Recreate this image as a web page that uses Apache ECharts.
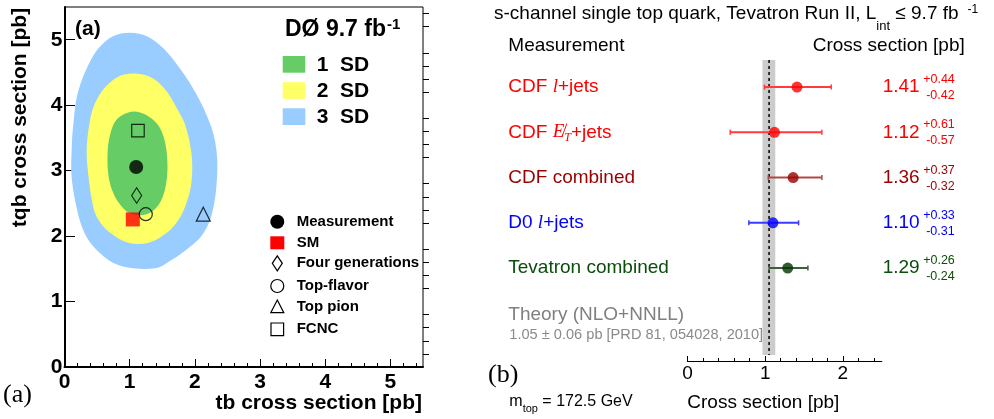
<!DOCTYPE html>
<html><head><meta charset="utf-8">
<script src="https://cdn.jsdelivr.net/npm/echarts@6/dist/echarts.min.js"></script>
<style>html,body{margin:0;padding:0;background:#fff}#c{width:994px;height:419px}</style>
</head><body><div id="c"></div>
<script>
// ---------------- Panel (a) data ----------------
const contour3SD = [[0.85,5.09],[1.15,5.09],[1.40,4.97],[1.65,4.72],[2.00,4.21],[2.24,3.70],[2.33,3.32],[2.34,2.89],[2.27,2.37],[2.13,2.04],[1.87,1.79],[1.57,1.59],[1.40,1.51],[1.05,1.51],[0.75,1.59],[0.49,1.79],[0.31,2.04],[0.20,2.37],[0.11,2.89],[0.11,3.32],[0.135,3.70],[0.21,4.21],[0.42,4.72],[0.62,4.97]];
const contour2SD = [[0.92,4.47],[1.20,4.47],[1.39,4.39],[1.57,4.21],[1.72,3.96],[1.85,3.70],[1.94,3.32],[1.96,3.01],[1.93,2.71],[1.85,2.45],[1.75,2.25],[1.57,2.05],[1.29,1.90],[0.98,1.90],[0.70,2.05],[0.52,2.25],[0.44,2.45],[0.37,2.89],[0.34,3.32],[0.38,3.70],[0.44,3.96],[0.57,4.21],[0.75,4.39]];
const contour1SD = [[0.98,3.89],[1.16,3.89],[1.33,3.80],[1.46,3.66],[1.55,3.40],[1.58,3.05],[1.55,2.75],[1.47,2.52],[1.35,2.38],[1.18,2.32],[1.02,2.34],[0.88,2.45],[0.76,2.63],[0.68,2.89],[0.66,3.25],[0.70,3.55],[0.80,3.78]];
const measurementPt = [1.10, 3.055];
const smPt = [1.048, 2.255];
const fourGenPt = [1.107, 2.62];
const topFlavorPt = [1.247, 2.335];
const topPionPt = [2.129, 2.335];
const fcncPt = [1.127, 3.61];
const ticksA = [0, 1, 2, 3, 4, 5];
const sdLabels = ['1  SD', '2  SD', '3  SD'];
const markerLabels = ['Measurement', 'SM', 'Four generations', 'Top-flavor', 'Top pion', 'FCNC'];

// ---------------- Panel (b) data ----------------
const measNames = ['CDF {it|l}+jets', 'CDF {it|E\u0338}{sub|T}+jets', 'CDF combined', 'D0 {it|l}+jets', 'Tevatron combined'];
const xsValues = [1.41, 1.12, 1.36, 1.10, 1.29];
const errUp = [0.44, 0.61, 0.37, 0.33, 0.26];
const errDown = [0.42, 0.57, 0.32, 0.31, 0.24];
const theoryValue = 1.05;
const theoryBand = [0.965, 1.13];
const ticksB = [0, 1, 2];

// ---------------- styles ----------------
const SANS = '"Liberation Sans", Arial, Helvetica, sans-serif';
const SERIF = '"Liberation Serif", "Times New Roman", serif';
const textColors = ['#ff0000', '#ff0000', '#990000', '#0000ff', '#0b4d0b'];
const markerColors = ['#ff0000', '#ff0000', '#990000', '#0000ff', '#003300'];
const barColors = ['#ff3b3b', '#ff3b3b', '#b04848', '#3b3bff', '#3e5f3e'];
const sdColors = ['#66cc66', '#ffff66', '#99ccff'];

const mctx = document.createElement('canvas').getContext('2d');
function tw(t, font) { mctx.font = font; return mctx.measureText(t).width; }
function pieceTexts(x, y, pieces) {
  const out = []; let cx = x;
  pieces.forEach(p => {
    cx += p.dx || 0;
    out.push({ type: 'text', x: cx, y: y + (p.dy || 0), silent: true, z: 100,
      style: { text: p.t, font: p.font, fill: p.fill || '#000', align: 'left', verticalAlign: 'middle' } });
    cx += tw(p.t, p.font);
  });
  return out;
}
function minorTicks(max, step) {
  const out = [];
  for (let k = 1; k * step < max - 1e-9; k++) {
    const v = +(k * step).toFixed(4);
    if (Math.abs(v - Math.round(v)) > 1e-6) out.push(v);
  }
  return out;
}

function polygonSeries(name, pts, color, z) {
  return { type: 'custom', name, xAxisIndex: 0, yAxisIndex: 0, z, silent: true, data: pts,
    encode: { x: 0, y: 1 },
    renderItem: (params, api) => {
      if (params.dataIndex !== 0) return null;
      return { type: 'polygon', shape: { points: pts.map(p => api.coord(p)), smooth: 0.35 }, style: { fill: color } };
    } };
}
const openStyle = { color: 'rgba(0,0,0,0)', borderColor: '#000', borderWidth: 1.2 };

const chart = echarts.init(document.getElementById('c'), null, { renderer: 'canvas' });

const GA = { left: 64.5, top: 7, width: 358.5, height: 360 };
const GB = { left: 687.5, top: 41.85, width: 194.2, height: 316.75 };
const axisOffB = 2.4;
const tickStyle = { color: '#000', width: 1 };
const option = {
  animation: false,
  backgroundColor: '#fff',
  grid: [
    Object.assign({ show: true, borderColor: '#000', borderWidth: 1, backgroundColor: 'transparent', containLabel: false, outerBoundsMode: 'none' }, GA),
    Object.assign({ show: false, containLabel: false, outerBoundsMode: 'none' }, GB)
  ],
  xAxis: [
    { type: 'value', gridIndex: 0, min: 0, max: 5.5, position: 'bottom',
      axisLine: { show: true, onZero: false, lineStyle: { color: '#000', width: 2 } },
      axisTick: { show: true, inside: true, length: 8, customValues: ticksA, lineStyle: tickStyle },
      axisLabel: { show: true, customValues: ticksA, margin: 4.5, color: '#000', fontFamily: SANS, fontSize: 21, fontWeight: 'bold' },
      splitLine: { show: false } },
    // minor ticks: top-positioned axis shifted down onto the bottom edge, ticks pointing up
    { type: 'value', gridIndex: 0, min: 0, max: 5.5, position: 'top', offset: -GA.height,
      axisLine: { show: false }, axisLabel: { show: false }, splitLine: { show: false },
      axisTick: { show: true, inside: false, length: 4, customValues: minorTicks(5.5, 0.2), lineStyle: tickStyle } },
    { type: 'value', gridIndex: 1, min: 0, max: 2.5, position: 'bottom', offset: axisOffB,
      axisLine: { show: true, onZero: false, lineStyle: { color: '#000', width: 1.2 } },
      axisTick: { show: true, inside: true, length: 5, customValues: ticksB, lineStyle: tickStyle },
      axisLabel: { show: true, customValues: ticksB, margin: 3, color: '#000', fontFamily: SANS, fontSize: 19 },
      splitLine: { show: false } },
    { type: 'value', gridIndex: 1, min: 0, max: 2.5, position: 'top', offset: -(GB.height + axisOffB),
      axisLine: { show: false }, axisLabel: { show: false }, splitLine: { show: false },
      axisTick: { show: true, inside: false, length: 3, customValues: minorTicks(2.5, 0.2), lineStyle: tickStyle } }
  ],
  yAxis: [
    { type: 'value', gridIndex: 0, min: 0, max: 5.5, position: 'left',
      axisLine: { show: true, onZero: false, lineStyle: { color: '#000', width: 2 } },
      axisTick: { show: true, inside: true, length: 10.5, customValues: ticksA, lineStyle: tickStyle },
      axisLabel: { show: true, customValues: ticksA, margin: 2, color: '#000', fontFamily: SANS, fontSize: 21, fontWeight: 'bold' },
      splitLine: { show: false } },
    { type: 'value', gridIndex: 0, min: 0, max: 5.5, position: 'right', offset: -GA.width,
      axisLine: { show: false }, axisLabel: { show: false }, splitLine: { show: false },
      axisTick: { show: true, inside: false, length: 6, customValues: minorTicks(5.5, 0.2), lineStyle: tickStyle } },
    { type: 'value', gridIndex: 1, min: 0, max: 7, inverse: true, show: false, splitLine: { show: false } }
  ],
  series: [
    polygonSeries('3 SD', contour3SD, sdColors[2], 1),
    polygonSeries('2 SD', contour2SD, sdColors[1], 2),
    polygonSeries('1 SD', contour1SD, sdColors[0], 3),
    { type: 'scatter', name: markerLabels[0], xAxisIndex: 0, yAxisIndex: 0, z: 5, data: [measurementPt], symbol: 'circle', symbolSize: 14, itemStyle: { color: '#000' } },
    { type: 'scatter', name: markerLabels[1], xAxisIndex: 0, yAxisIndex: 0, z: 5, data: [smPt], symbol: 'rect', symbolSize: 14, itemStyle: { color: '#ff0000' } },
    { type: 'scatter', name: markerLabels[2], xAxisIndex: 0, yAxisIndex: 0, z: 5, data: [fourGenPt], symbol: 'diamond', symbolSize: [10, 15.5], symbolKeepAspect: false, itemStyle: openStyle },
    { type: 'scatter', name: markerLabels[3], xAxisIndex: 0, yAxisIndex: 0, z: 5, data: [topFlavorPt], symbol: 'circle', symbolSize: 13, itemStyle: openStyle },
    { type: 'scatter', name: markerLabels[4], xAxisIndex: 0, yAxisIndex: 0, z: 5, data: [topPionPt], symbol: 'triangle', symbolSize: 14, itemStyle: openStyle },
    { type: 'scatter', name: markerLabels[5], xAxisIndex: 0, yAxisIndex: 0, z: 5, data: [fcncPt], symbol: 'rect', symbolSize: 12.5, itemStyle: openStyle },
    // theory band
    { type: 'custom', xAxisIndex: 2, yAxisIndex: 2, z: 1, silent: true,
      data: [[theoryBand[0], theoryBand[1], theoryValue, 3]], encode: { x: [0, 1, 2], y: 3 },
      renderItem: (params, api) => {
        const cs = params.coordSys;
        const x0 = api.coord([api.value(0), 0])[0], x1 = api.coord([api.value(1), 0])[0], xm = api.coord([api.value(2), 0])[0];
        const yt = cs.y + 18.2, yb = cs.y + cs.height - 3.6;
        return { type: 'group', children: [
          { type: 'rect', shape: { x: x0, y: yt, width: x1 - x0, height: yb - yt }, style: { fill: '#cccccc' } },
          { type: 'line', shape: { x1: xm, y1: yt, x2: xm, y2: yb }, style: { stroke: '#000', lineWidth: 1.5, lineDash: [3, 3] } }
        ] };
      } },
    // error bars + value labels
    { type: 'custom', xAxisIndex: 2, yAxisIndex: 2, z: 3, silent: true,
      data: xsValues.map((v, i) => [v, +(v - errDown[i]).toFixed(3), +(v + errUp[i]).toFixed(3), i + 1]),
      encode: { x: [0, 1, 2], y: 3 },
      renderItem: (params, api) => {
        const i = params.dataIndex;
        const row = api.value(3);
        const p = api.coord([api.value(0), row]);
        const pl = api.coord([api.value(1), row]);
        const ph = api.coord([api.value(2), row]);
        const col = barColors[i];
        const cs = params.coordSys;
        const xr = cs.x + cs.width + 1;
        const vfont = '19px ' + SANS, sfont = '12.5px ' + SANS;
        const vt = xsValues[i].toFixed(2);
        const xs = xr + tw(vt, vfont) + 3.5;
        const tc = textColors[i];
        return { type: 'group', children: [
          { type: 'line', shape: { x1: pl[0], y1: p[1], x2: ph[0], y2: p[1] }, style: { stroke: col, lineWidth: 2 } },
          { type: 'line', shape: { x1: pl[0], y1: p[1] - 2.5, x2: pl[0], y2: p[1] + 2.5 }, style: { stroke: col, lineWidth: 1.5 } },
          { type: 'line', shape: { x1: ph[0], y1: p[1] - 2.5, x2: ph[0], y2: p[1] + 2.5 }, style: { stroke: col, lineWidth: 1.5 } },
          { type: 'text', x: xr, y: p[1], style: { text: vt, font: vfont, fill: tc, align: 'left', verticalAlign: 'middle' } },
          { type: 'text', x: xs, y: p[1] - 7.5, style: { text: '+' + errUp[i].toFixed(2), font: sfont, fill: tc, align: 'left', verticalAlign: 'middle' } },
          { type: 'text', x: xs + 3, y: p[1] + 8.5, style: { text: '-' + errDown[i].toFixed(2), font: sfont, fill: tc, align: 'left', verticalAlign: 'middle' } }
        ] };
      } },
    { type: 'scatter', xAxisIndex: 2, yAxisIndex: 2, z: 6, symbol: 'circle', symbolSize: 11,
      data: xsValues.map((v, i) => ({ value: [v, i + 1], itemStyle: { color: markerColors[i] } })) }
  ]
};
chart.setOption(option);

// ---------------- annotations ----------------
const g = [];
const B21 = 'bold 21px ' + SANS;
// panel (a)
g.push(...pieceTexts(75, 29, [{ t: '(a)', font: B21 }]));
g.push(...pieceTexts(285, 30, [{ t: 'D\u00D8 9.7 fb', font: 'bold 23px ' + SANS }, { t: '-1', font: 'bold 15px ' + SANS, dy: -5, dx: 1 }]));
sdLabels.forEach((s, i) => {
  const yTop = 56 + i * 26.15;
  g.push({ type: 'rect', z: 100, silent: true, shape: { x: 282.7, y: yTop, width: 22.6, height: 16.7 }, style: { fill: sdColors[i] } });
  g.push(...pieceTexts(316.7, yTop + 8.8, [{ t: s, font: B21 }]));
});
const legY = [221.7, 242.8, 263.3, 286, 306.5, 329.3];
const lx = 277.3;
const sym = { fill: 'none', stroke: '#000', lineWidth: 1.2 };
g.push({ type: 'circle', z: 100, silent: true, shape: { cx: lx, cy: legY[0], r: 7 }, style: { fill: '#000' } });
g.push({ type: 'rect', z: 100, silent: true, shape: { x: lx - 7, y: legY[1] - 6.5, width: 14, height: 13 }, style: { fill: '#ff0000' } });
g.push({ type: 'polygon', z: 100, silent: true, shape: { points: [[lx, legY[2] - 7.5], [lx + 5, legY[2]], [lx, legY[2] + 7.5], [lx - 5, legY[2]]] }, style: sym });
g.push({ type: 'circle', z: 100, silent: true, shape: { cx: lx, cy: legY[3], r: 6.5 }, style: sym });
g.push({ type: 'polygon', z: 100, silent: true, shape: { points: [[lx, legY[4] - 6.5], [lx + 6.5, legY[4] + 6.2], [lx - 6.5, legY[4] + 6.2]] }, style: sym });
g.push({ type: 'rect', z: 100, silent: true, shape: { x: lx - 6.3, y: legY[5] - 6.3, width: 12.6, height: 12.6 }, style: sym });
markerLabels.forEach((s, i) => g.push(...pieceTexts(296.7, legY[i], [{ t: s, font: 'bold 15px ' + SANS }])));
g.push({ type: 'text', z: 100, silent: true, x: 20, y: 117.5, rotation: Math.PI / 2,
  style: { text: 'tqb cross section [pb]', font: B21, fill: '#000', align: 'center', verticalAlign: 'middle' } });
g.push({ type: 'text', z: 100, silent: true, x: 422, y: 403,
  style: { text: 'tb cross section [pb]', font: B21, fill: '#000', align: 'right', verticalAlign: 'middle' } });
g.push(...pieceTexts(3, 395, [{ t: '(a)', font: '26px ' + SERIF }]));

// panel (b)
const R19 = '19px ' + SANS;
g.push(...pieceTexts(494, 14, [
  { t: 's-channel single top quark, Tevatron Run II, L', font: R19 },
  { t: 'int', font: '13px ' + SANS, dy: 12 },
  { t: ' \u2264 9.7 fb', font: R19 },
  { t: '-1', font: '12px ' + SANS, dy: -4, dx: 9 }
]));
g.push(...pieceTexts(508.3, 46, [{ t: 'Measurement', font: R19 }]));
g.push(...pieceTexts(812.7, 46, [{ t: 'Cross section [pb]', font: R19 }]));
const rowY = i => chart.convertToPixel({ xAxisIndex: 2, yAxisIndex: 2 }, [0, i])[1];
const styleMap = {
  n: { font: R19, dy: 0 },
  it: { font: 'italic 19px ' + SERIF, dy: 0 },
  sub: { font: 'italic 12px ' + SERIF, dy: 5 }
};
measNames.forEach((name, i) => {
  const pieces = [];
  const re = /\{(\w+)\|([^}]*)\}|([^{]+)/g; let m;
  while ((m = re.exec(name))) {
    const key = m[1] || 'n'; const t = m[1] ? m[2] : m[3];
    pieces.push({ t, font: styleMap[key].font, dy: styleMap[key].dy, fill: textColors[i] });
  }
  g.push(...pieceTexts(508.3, rowY(i + 1), pieces));
});
const ty = rowY(6);
g.push(...pieceTexts(508.3, ty + 1.5, [{ t: 'Theory (NLO+NNLL)', font: R19, fill: '#808080' }]));
g.push(...pieceTexts(509.3, ty + 21.5, [{ t: '1.05 \u00B1 0.06 pb [PRD 81, 054028, 2010]', font: '14.6px ' + SANS, fill: '#8a8a8a' }]));
g.push(...pieceTexts(488, 375, [{ t: '(b)', font: '26px ' + SERIF }]));
g.push(...pieceTexts(509.3, 401.5, [
  { t: 'm', font: '16px ' + SANS }, { t: 'top', font: '11px ' + SANS, dy: 7 }, { t: ' = 172.5 GeV', font: '16px ' + SANS }
]));
g.push(...pieceTexts(687.3, 402.7, [{ t: 'Cross section [pb]', font: R19 }]));

chart.setOption({ graphic: { elements: g } });
</script>
</body></html>
